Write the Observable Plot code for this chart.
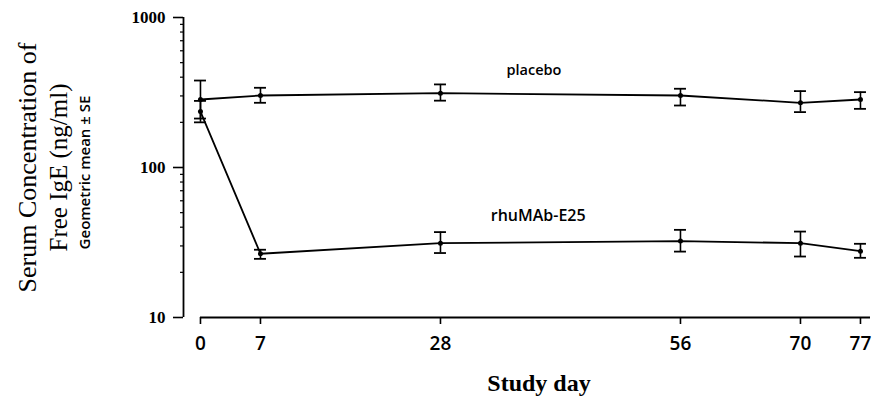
<!DOCTYPE html>
<html><head><meta charset="utf-8">
<script src="https://cdn.jsdelivr.net/npm/d3@7"></script>
<script src="https://cdn.jsdelivr.net/npm/@observablehq/plot@0.6"></script>
<style>body{margin:0;background:#fff} svg{display:block}</style>
</head><body><div id="chart"></div>
<script>
// Study days (x) and tick labels
const days = [0, 7, 28, 56, 70, 77];
const xTicks = [0, 7, 28, 56, 70, 77];
const yTicks = [10, 100, 1000];
const yMinor = [20, 30, 40, 50, 60, 70, 80, 90, 200, 300, 400, 500, 600, 700, 800, 900];

// Placebo: geometric mean and ± SE bounds (ng/ml)
const placeboMean = [284, 302, 313, 302, 270, 284];
const placeboLo   = [212, 270, 279, 259, 234, 246];
const placeboHi   = [380, 340, 358, 335, 323, 318];

// rhuMAb-E25: geometric mean and ± SE bounds (ng/ml)
const rhuMean = [236, 26.6, 31.3, 32.3, 31.3, 27.7];
const rhuLo   = [200, 24.6, 26.9, 27.5, 25.5, 25.0];
const rhuHi   = [278, 28.3, 37.1, 38.4, 37.4, 31.0];

// Series labels
const seriesNames = ["placebo", "rhuMAb-E25"];
const labelDay = [38.9, 39.4];
const labelValue = [443, 47.5];

const xDomain = [-1.98, 78.17];

const data = [];
days.forEach((d, i) => data.push({group: "placebo", day: d, mean: placeboMean[i], lo: placeboLo[i], hi: placeboHi[i]}));
days.forEach((d, i) => data.push({group: "rhuMAb-E25", day: d, mean: rhuMean[i], lo: rhuLo[i], hi: rhuHi[i]}));
const labels = seriesNames.map((s, i) => ({name: s, day: labelDay[i], value: labelValue[i]}));

const chart = Plot.plot({
  width: 874, height: 401,
  marginLeft: 183, marginRight: 4, marginTop: 17, marginBottom: 84,
  style: {background: "white", color: "black"},
  x: {domain: xDomain, label: null},
  y: {type: "log", domain: [10, 1000], label: null},
  marks: [
    Plot.ruleX([xDomain[0]], {y1: 10, y2: 1000, strokeWidth: 1.8}),
    Plot.axisY({ticks: yMinor, tickSize: 3, tickFormat: () => "", strokeWidth: 1.2, label: null}),
    Plot.axisY({ticks: yTicks, tickSize: 10, tickPadding: 8, tickFormat: d => String(d), label: null,
      fontSize: 17, fontFamily: "Liberation Serif", fontWeight: "bold", strokeWidth: 1.6}),
    Plot.ruleY([10], {x1: days[0], x2: xDomain[1], strokeWidth: 1.8}),
    Plot.axisX({ticks: xTicks, tickSize: 7, tickPadding: 12, tickFormat: d => String(d), label: null,
      fontSize: 19, fontFamily: "Open Sans", fontWeight: 600, strokeWidth: 1.6}),
    Plot.line(data, {x: "day", y: "mean", z: "group", stroke: "black", strokeWidth: 1.8}),
    Plot.ruleX(data, {x: "day", y1: "lo", y2: "hi", stroke: "black", strokeWidth: 1.6}),
    Plot.ruleY(data, {y: "lo", x1: "day", x2: "day", insetLeft: -6, insetRight: -6, stroke: "black", strokeWidth: 1.8}),
    Plot.ruleY(data, {y: "hi", x1: "day", x2: "day", insetLeft: -6, insetRight: -6, stroke: "black", strokeWidth: 1.8}),
    Plot.dot(data, {x: "day", y: "mean", r: 2.5, fill: "black", stroke: null}),
    Plot.text(labels.slice(0, 1), {x: "day", y: "value", text: "name", fontSize: 14.5, fontFamily: "Open Sans", fontWeight: 600}),
    Plot.text(labels.slice(1), {x: "day", y: "value", text: "name", fontSize: 16, fontFamily: "Open Sans", fontWeight: 600}),
    Plot.text(["Serum Concentration of"], {frameAnchor: "left", textAnchor: "middle", rotate: -90, dx: -156, fontSize: 26, fontFamily: "Liberation Serif"}),
    Plot.text(["Free IgE (ng/ml)"], {frameAnchor: "left", textAnchor: "middle", rotate: -90, dx: -125, fontSize: 25, fontFamily: "Liberation Serif"}),
    Plot.text(["Geometric mean \u00B1 SE"], {frameAnchor: "left", textAnchor: "middle", rotate: -90, dx: -98, dy: 5, fontSize: 15, fontFamily: "Open Sans", fontWeight: 600}),
    Plot.text(["Study day"], {frameAnchor: "bottom", textAnchor: "middle", dx: 12, dy: 73, fontSize: 24, fontFamily: "Liberation Serif", fontWeight: "bold"})
  ]
});
document.getElementById("chart").appendChild(chart);
</script>
</body></html>
